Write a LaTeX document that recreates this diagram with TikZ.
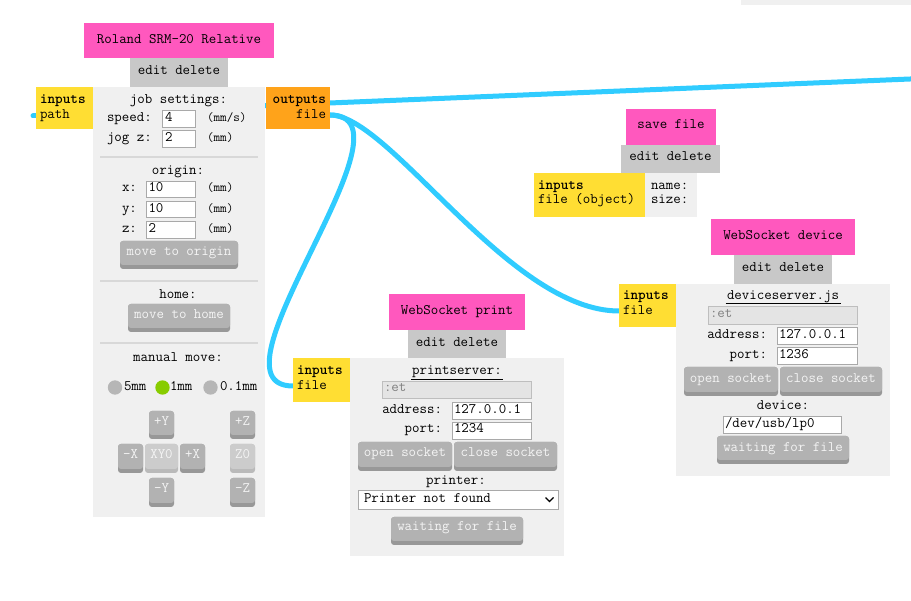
\documentclass[tikz,border=0pt]{standalone}
\usepackage{fontspec}
\definecolor{modpink}{RGB}{255,88,190}
\definecolor{modyellow}{RGB}{255,222,51}
\definecolor{modorange}{RGB}{255,163,26}
\definecolor{modedit}{RGB}{200,200,200}
\definecolor{modbody}{RGB}{240,240,240}
\definecolor{moddiv}{RGB}{216,216,216}
\definecolor{modbtn}{RGB}{178,178,178}
\definecolor{modbtnshade}{RGB}{152,152,152}
\definecolor{modbtnlight}{RGB}{204,204,204}
\definecolor{modbtnlightshade}{RGB}{186,186,186}
\definecolor{btntext}{RGB}{244,244,244}
\definecolor{modwire}{RGB}{48,204,255}
\definecolor{modfield}{RGB}{169,169,169}
\definecolor{moddis}{RGB}{228,228,228}
\definecolor{moddisborder}{RGB}{190,190,190}
\definecolor{modgreen}{RGB}{136,204,0}
\definecolor{modradio}{RGB}{182,182,182}
\tikzset{
  tx/.style={inner sep=0pt, outer sep=0pt, anchor=base, font=\ttfamily\fontsize{14.5}{17}\selectfont, text=black},
  txl/.style={tx, anchor=base west},
  txr/.style={tx, anchor=base east},
  txb/.style={txl, font=\ttfamily\bfseries\fontsize{14.5}{17}\selectfont},
  txbr/.style={txr, font=\ttfamily\bfseries\fontsize{14.5}{17}\selectfont},
  unit/.style={txl, font=\ttfamily\fontsize{12.8}{15}\selectfont},
  btntx/.style={tx, text=btntext},
  distx/.style={txl, text=gray},
  wire/.style={draw=modwire, line width=5pt, line cap=round},
  divider/.style={draw=moddiv, line width=1.8pt},
  field/.style={fill=white, draw=modfield, line width=1pt},
  disfield/.style={fill=moddis, draw=moddisborder, line width=1pt},
}
% #1 name, #2 x1, #3 y1, #4 x2, #5 y2, #6 baseline, #7 label
\newcommand{\modButton}[7]{%
  \fill[modbtnshade, rounded corners=3pt] (#2,#3) rectangle (#4,#5);
  \fill[modbtn, rounded corners=3pt] (#2,#3) rectangle (#4,#5-4);
  \node[btntx] (#1) at ({(#2+#4)/2},#6) {#7};
}
\newcommand{\modButtonLight}[7]{%
  \fill[modbtnlightshade, rounded corners=3pt] (#2,#3) rectangle (#4,#5);
  \fill[modbtnlight, rounded corners=3pt] (#2,#3) rectangle (#4,#5-4);
  \node[btntx] (#1) at ({(#2+#4)/2},#6) {#7};
}
\begin{document}
\begin{tikzpicture}[x=1pt,y=-1pt]
\useasboundingbox (0,0) rectangle (911,601);
\fill[white] (0,0) rectangle (911,601);

% ---- port coordinates ----
\coordinate (pathWireEnd) at (33,116);
\coordinate (rolandPathIn) at (40,116);
\coordinate (rolandHidden) at (262,105.8);
\coordinate (farRight) at (915,78.8);
\coordinate (rolandFileOut) at (330,115);
\coordinate (printFileIn) at (293,386);
\coordinate (deviceFileIn) at (619,311);

% ---- wires ----
\draw[wire] (pathWireEnd) -- (rolandPathIn);
\draw[wire, line cap=butt] (rolandHidden) -- (farRight);
\draw[wire] (rolandFileOut) .. controls +(95,0) and +(-95,0) .. (printFileIn);
\draw[wire] (rolandFileOut) .. controls +(60,0) and +(-110,0) .. (deviceFileIn);

% ---- top right partial module ----
\fill[modbody] (741,0) rectangle (911,5);

% ================= Roland SRM-20 Relative =================
\fill[modpink] (84,23) rectangle (274,58);
\node[tx] (rTitle) at (179,43.3) {Roland SRM-20 Relative};
\fill[modedit] (130,58) rectangle (228,87);
\node[tx] (rEdit) at (179,75) {edit delete};
\fill[modbody] (93,87) rectangle (265,517);
\fill[modyellow] (36,87) rectangle (93,129);
\node[txb] (rIn) at (40,104) {inputs};
\node[txl] (rInPath) at (40,119) {path};
\fill[modorange] (266,87) rectangle (330,129);
\node[txbr] (rOut) at (326,104) {outputs};
\node[txr] (rOutFile) at (326,119) {file};

\node[tx] (rJob) at (178.5,104) {job settings:};
\node[txl] (rSpeed) at (107,121.7) {speed:};
\draw[field] (162.5,110.5) rectangle (195.5,127.5);
\node[txl] (rSpeedV) at (165,121.7) {4};
\node[unit] (rSpeedU) at (207,121.7) {(mm/s)};
\node[txl] (rJog) at (107,141.7) {jog z:};
\draw[field] (162.5,130.5) rectangle (195.5,147.5);
\node[txl] (rJogV) at (165,141.7) {2};
\node[unit] (rJogU) at (207,141.7) {(mm)};
\draw[divider] (100,157) -- (258,157);

\node[tx] (rOrigin) at (178,175) {origin:};
\node[txl] (rX) at (122,191.7) {x:};
\draw[field] (146.5,181.5) rectangle (195.5,197.5);
\node[txl] (rXV) at (148.5,191.7) {10};
\node[unit] (rXU) at (207,191.7) {(mm)};
\node[txl] (rY) at (122,212.3) {y:};
\draw[field] (146.5,201.5) rectangle (195.5,217.5);
\node[txl] (rYV) at (148.5,212.3) {10};
\node[unit] (rYU) at (207,212.3) {(mm)};
\node[txl] (rZ) at (122,232.7) {z:};
\draw[field] (146.5,221.5) rectangle (195.5,238.5);
\node[txl] (rZV) at (148.5,232.7) {2};
\node[unit] (rZU) at (207,232.7) {(mm)};
\modButton{rMoveOrigin}{120}{241}{238}{269}{256}{move to origin}
\draw[divider] (100,281) -- (258,281);

\node[tx] (rHome) at (178,299) {home:};
\modButton{rMoveHome}{128}{304}{230}{332}{319}{move to home}
\draw[divider] (100,343) -- (258,343);

\node[tx] (rManual) at (178,362) {manual move:};
\fill[modradio] (115,387.5) circle (7.2);
\node[txl] (r5) at (124,391) {5mm};
\fill[modgreen] (162.5,387.5) circle (7.2);
\node[txl] (r1) at (170,391) {1mm};
\fill[modradio] (210.5,387.5) circle (7.2);
\node[txl] (r01) at (220,391) {0.1mm};

\modButton{bPY}{149}{411}{174}{439}{426}{+Y}
\modButton{bMX}{118}{444}{143}{473}{459}{-X}
\modButtonLight{bXY}{145}{444}{178}{473}{459}{XY0}
\modButton{bPX}{180}{444}{205}{473}{459}{+X}
\modButton{bMY}{149}{478}{174}{507}{493}{-Y}
\modButton{bPZ}{230}{411}{255}{439}{426}{+Z}
\modButtonLight{bZ0}{230}{444}{255}{473}{459}{Z0}
\modButton{bMZ}{230}{478}{255}{507}{493}{-Z}

% ================= WebSocket print =================
\fill[modpink] (389,294) rectangle (525,330);
\node[tx] (pTitle) at (457,315) {WebSocket print};
\fill[modedit] (408,330) rectangle (506,358);
\node[tx] (pEdit) at (457,347) {edit delete};
\fill[modbody] (350,358) rectangle (564,556);
\fill[modyellow] (293,358) rectangle (350,402);
\node[txb] (pIn) at (297,375) {inputs};
\node[txl] (pInFile) at (297,390) {file};
\node[tx] (pServer) at (457,375) {printserver:};
\draw[line width=1pt] (411,379.5) -- (503,379.5);
\draw[disfield] (382.5,381.5) rectangle (531.5,398.5);
\node[distx] (pEt) at (384,392) {:et};
\node[txr] (pAddr) at (442,413.3) {address:};
\draw[field] (452.5,402.5) rectangle (531.5,419.5);
\node[txl] (pAddrV) at (454,413.3) {127.0.0.1};
\node[txr] (pPort) at (442,432.7) {port:};
\draw[field] (452.5,422.5) rectangle (531.5,439.5);
\node[txl] (pPortV) at (454,432.7) {1234};
\modButton{pOpen}{358}{442}{452}{471}{456.7}{open socket}
\modButton{pClose}{454}{442}{557}{471}{456.7}{close socket}
\node[tx] (pPrinter) at (456,485) {printer:};
\draw[field] (358.5,490.5) rectangle (558.5,509.5);
\node[txl] (pPrinterV) at (364,502.7) {Printer not found};
\draw[line width=1.3pt] (545.5,497.5) -- (549.5,501.5) -- (553.5,497.5);
\modButton{pWait}{391}{517}{523}{545}{530.7}{waiting for file}

% ================= save file =================
\fill[modpink] (626,109) rectangle (716,145);
\node[tx] (sTitle) at (671,128.3) {save file};
\fill[modedit] (621,145) rectangle (720,173);
\node[tx] (sEdit) at (670.5,160.7) {edit delete};
\fill[modbody] (645,173) rectangle (697,217);
\fill[modyellow] (534,173) rectangle (645,217);
\node[txb] (sIn) at (538,190) {inputs};
\node[txl] (sInFile) at (538,204) {file (object)};
\node[txl] (sName) at (651,190) {name:};
\node[txl] (sSize) at (651,204) {size:};

% ================= WebSocket device =================
\fill[modpink] (711,219) rectangle (855,255);
\node[tx] (dTitle) at (783,240) {WebSocket device};
\fill[modedit] (734,255) rectangle (832,284);
\node[tx] (dEdit) at (783,271.7) {edit delete};
\fill[modbody] (676,284) rectangle (890,476);
\fill[modyellow] (619,284) rectangle (676,327);
\node[txb] (dIn) at (623,300) {inputs};
\node[txl] (dInFile) at (623,315) {file};
\node[tx] (dServer) at (783,300) {deviceserver.js};
\draw[line width=1pt] (725.5,303.5) -- (840.5,303.5);
\draw[disfield] (708.5,306.5) rectangle (857.5,324.5);
\node[distx] (dEt) at (710,317.7) {:et};
\node[txr] (dAddr) at (767,338.3) {address:};
\draw[field] (777.5,327.5) rectangle (857.5,344.5);
\node[txl] (dAddrV) at (779,338.3) {127.0.0.1};
\node[txr] (dPort) at (767,358.3) {port:};
\draw[field] (777.5,347.5) rectangle (857.5,364.5);
\node[txl] (dPortV) at (779,358.3) {1236};
\modButton{dOpen}{684}{367}{778}{396}{382.3}{open socket}
\modButton{dClose}{780}{367}{882}{396}{382.3}{close socket}
\node[tx] (dDevice) at (783,410) {device:};
\draw[field] (723.5,416.5) rectangle (841.5,433.5);
\node[txl] (dDeviceV) at (725,427.3) {/dev/usb/lp0};
\modButton{dWait}{717}{436}{849}{464}{451.7}{waiting for file}
\end{tikzpicture}
\end{document}
